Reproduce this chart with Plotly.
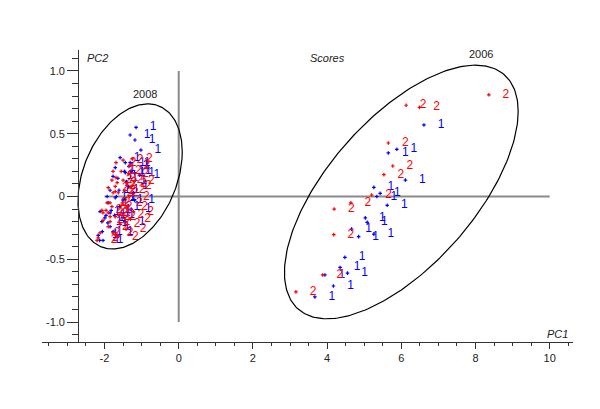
import numpy as np
import plotly.graph_objects as go

# ---- data: PCA scores (PC1, PC2), class 1 (blue) and class 2 (red) ----
# 2006 samples
x2006_c2 = [8.36, 6.13, 6.49, 5.65, 5.77, 5.53, 5.20, 4.64, 4.19, 4.18, 3.88, 3.16]
y2006_c2 = [0.81, 0.727, 0.71, 0.426, 0.243, 0.174, 0.012, -0.05, -0.10, -0.304, -0.625, -0.76]
x2006_c1 = [6.61, 5.88, 5.65, 6.11, 5.26, 5.43, 5.34, 5.62, 5.03, 5.08, 4.66, 4.85, 5.26,
            4.48, 4.35, 4.55, 3.94, 4.17, 3.67]
y2006_c1 = [0.57, 0.376, 0.347, 0.131, 0.073, 0.025, 0.00, -0.07, -0.17, -0.206, -0.26, -0.32,
            -0.30, -0.485, -0.565, -0.61, -0.625, -0.713, -0.80]

# 2008 samples
x2008_c2 = [-2.20, -2.17, -2.12, -2.07, -2.04, -2.04, -1.96, -1.93, -1.90, -1.90, -1.90, -1.85,
            -1.85, -1.85, -1.80, -1.80, -1.77, -1.77, -1.77, -1.71, -1.71, -1.71, -1.69, -1.69,
            -1.66, -1.63, -1.63, -1.58, -1.55, -1.52, -1.50, -1.50, -1.48, -1.45, -1.42, -1.40,
            -1.38, -1.35, -1.33, -1.31, -1.30, -1.28, -1.25, -1.22, -1.20]
y2008_c2 = [-0.35, -0.33, -0.29, -0.11, -0.19, -0.13, -0.11, -0.05, 0.07, -0.13, -0.24, -0.05,
            -0.16, -0.20, 0.13, -0.08, 0.20, 0.03, -0.29, 0.04, 0.08, -0.16, 0.27, 0.15,
            0.11, 0.03, -0.32, -0.22, 0.20, -0.05, 0.29, 0.13, -0.15, 0.05, -0.26, 0.10,
            -0.08, 0.18, 0.00, 0.25, -0.18, 0.08, 0.30, -0.12, 0.12]
x2008_c1 = [-1.15, -1.31, -1.18, -1.02, -1.58, -1.44, -1.31, -1.71, -1.44, -1.34, -1.46, -1.28,
            -1.19, -1.05, -1.77, -1.64, -1.41, -1.85, -1.61, -1.68, -1.93, -1.71, -1.19, -1.50,
            -1.90, -1.59, -1.82, -2.12, -1.73, -1.85, -1.96, -1.99, -2.07, -1.91, -1.85, -1.77,
            -2.06, -2.17, -2.04, -2.13, -1.35, -1.28, -1.45]
y2008_c1 = [0.55, 0.49, 0.45, 0.37, 0.31, 0.27, 0.27, 0.23, 0.19, 0.24, 0.20, 0.20,
            0.19, 0.17, 0.16, 0.145, 0.12, 0.05, 0.05, 0.00, 0.00, -0.01, -0.03, -0.03,
            -0.05, -0.08, -0.11, -0.12, -0.15, -0.13, -0.15, -0.17, -0.20, -0.21, -0.24, -0.28,
            -0.28, -0.31, -0.35, -0.35, 0.08, -0.10, -0.20]

# confidence ellipses: centre, half-extent in x and y, correlation
ell_2008 = dict(cx=-1.31, cy=0.16, sx=1.405, sy=0.578, r=0.337)
ell_2006 = dict(cx=6.0, cy=0.036, sx=3.15, sy=1.01, r=0.635)

BLUE = "#0000ff"
RED = "#ff0000"
FONT = "Liberation Sans, Arial, sans-serif"
label_dx = 0.46

fig = go.Figure()

def add_group(xs, ys, color, label):
    fig.add_trace(go.Scatter(x=xs, y=ys, mode="markers",
                             marker=dict(symbol="cross", size=3, color=color, line=dict(width=0)),
                             hoverinfo="skip", showlegend=False))
    fig.add_trace(go.Scatter(x=[v + label_dx for v in xs], y=ys, mode="text",
                             text=[label] * len(xs), textposition="middle center",
                             textfont=dict(family=FONT, size=12, color=color),
                             hoverinfo="skip", showlegend=False))

add_group(x2008_c1, y2008_c1, BLUE, "1")
add_group(x2008_c2, y2008_c2, RED, "2")
add_group(x2006_c1, y2006_c1, BLUE, "1")
add_group(x2006_c2, y2006_c2, RED, "2")

t = np.linspace(0, 2 * np.pi, 241)
for e in (ell_2008, ell_2006):
    ex = e["cx"] + e["sx"] * np.cos(t)
    ey = e["cy"] + e["sy"] * (e["r"] * np.cos(t) + np.sqrt(1 - e["r"] ** 2) * np.sin(t))
    fig.add_trace(go.Scatter(x=ex, y=ey, mode="lines", line=dict(color="black", width=1.2),
                             hoverinfo="skip", showlegend=False))

# reference lines through origin
fig.add_shape(type="line", x0=-2, x1=10, y0=0, y1=0, xref="x", yref="y",
              line=dict(color="#8a8a8a", width=2), layer="below")
fig.add_shape(type="line", x0=0, x1=0, y0=-1, y1=1, xref="x", yref="y",
              line=dict(color="#8a8a8a", width=2), layer="below")

xr = [-3.685, 10.628]
yaxis_x = -2.71
fig.update_layout(
    width=592, height=401,
    margin=dict(l=34, r=27, t=42, b=67),
    paper_bgcolor="white", plot_bgcolor="white",
    font=dict(family=FONT, size=11, color="#222"),
    xaxis=dict(range=xr, showgrid=False, zeroline=False, showline=True, linecolor="#333",
               linewidth=1, ticks="outside", ticklen=6, tickcolor="#333",
               tickvals=[-2, 0, 2, 4, 6, 8, 10], ticktext=["-2", "0", "2", "4", "6", "8", "10"],
               minor=dict(dtick=0.5, ticks="outside", ticklen=3, tickcolor="#333", showgrid=False),
               tickfont=dict(size=11, color="#222")),
    yaxis=dict(range=[-1.159, 1.167], showgrid=False, zeroline=False, showline=True,
               linecolor="#333", linewidth=1, ticks="outside", ticklen=11, tickcolor="#333",
               anchor="free", position=(yaxis_x - xr[0]) / (xr[1] - xr[0]),
               tickvals=[-1, -0.5, 0, 0.5, 1], ticktext=["-1.0", "-0.5", "0", "0.5", "1.0"],
               minor=dict(dtick=0.1, ticks="outside", ticklen=6, tickcolor="#333", showgrid=False),
               tickfont=dict(size=11, color="#222")),
)

ann = [
    dict(x=-2.20, y=1.10, text="<i>PC2</i>"),
    dict(x=4.0, y=1.10, text="<i>Scores</i>"),
    dict(x=10.2, y=-1.096, text="<i>PC1</i>"),
    dict(x=-0.91, y=0.817, text="2008"),
    dict(x=8.15, y=1.135, text="2006"),
]
for a in ann:
    fig.add_annotation(x=a["x"], y=a["y"], text=a["text"], xref="x", yref="y", showarrow=False,
                       font=dict(family=FONT, size=11, color="#222"))

fig.write_html("out.html")
